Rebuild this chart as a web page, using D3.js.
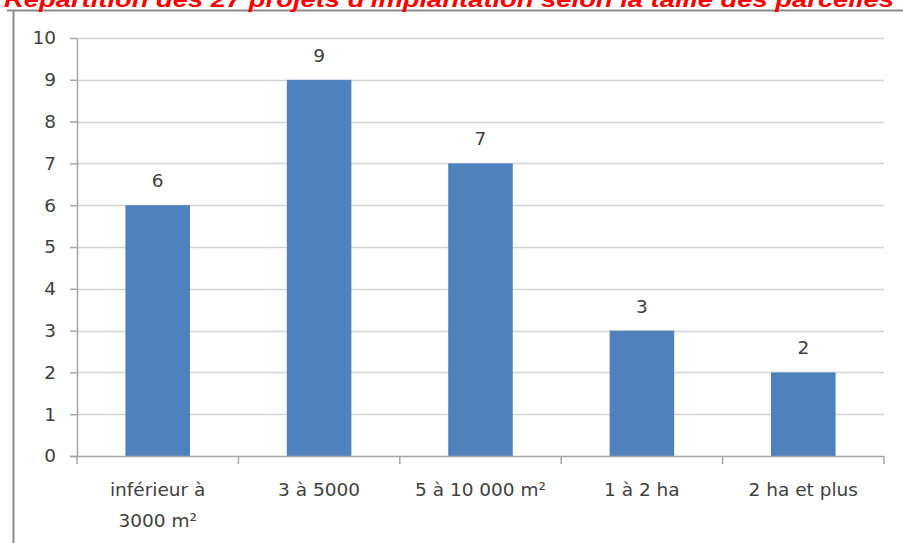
<!DOCTYPE html>
<html><head><meta charset="utf-8">
<script src="https://cdn.jsdelivr.net/npm/d3@7"></script>
<style>body{margin:0;background:#fff}svg{display:block}</style>
</head><body>
<svg id="c" width="903" height="543"></svg>
<script>
const title = "Répartition des 27 projets d'implantation selon la taille des parcelles";
const categories = [["inférieur à","3000 m²"],["3 à 5000"],["5 à 10 000 m²"],["1 à 2 ha"],["2 ha et plus"]];
const values = [6, 9, 7, 3, 2];
const yTicks = [0,1,2,3,4,5,6,7,8,9,10];

(function(){
const svg = d3.select("#c");
const font = "'DejaVu Sans', sans-serif";
const pLeft = 77, pRight = 884, pTop = 38, pBottom = 456;

// frame
svg.append("line").attr("x1",7).attr("x2",903).attr("y1",10.5).attr("y2",10.5).attr("stroke","#8c8c8c").attr("stroke-width",2);
svg.append("line").attr("x1",13.5).attr("x2",13.5).attr("y1",10).attr("y2",543).attr("stroke","#8c8c8c").attr("stroke-width",2);

// title
svg.append("text").attr("x",449).attr("y",7).attr("text-anchor","middle")
  .attr("font-family","'Liberation Sans', Arial, sans-serif").attr("font-weight","bold").attr("font-style","italic")
  .attr("font-size",22).attr("fill","#ff0000").attr("textLength",890).attr("lengthAdjust","spacingAndGlyphs").text(title);

const x = d3.scaleBand().domain(d3.range(values.length)).range([pLeft,pRight]).paddingInner(0).paddingOuter(0);
const y = d3.scaleLinear().domain([0,10]).range([pBottom,pTop]);

// gridlines
svg.append("g").selectAll("line").data(yTicks.filter(d=>d>0)).join("line")
  .attr("x1",pLeft).attr("x2",pRight).attr("y1",d=>Math.round(y(d))+0.5).attr("y2",d=>Math.round(y(d))+0.5)
  .attr("stroke","#d4d4d4").attr("stroke-width",1.5);

// bars
const bw = x.bandwidth()*0.4;
svg.append("g").selectAll("rect").data(values).join("rect")
  .attr("x",(d,i)=>x(i)+x.bandwidth()/2-bw/2).attr("width",bw)
  .attr("y",d=>y(d)).attr("height",d=>y(0)-y(d)).attr("fill","#4f81bd");

// y axis
const ya = svg.append("g").attr("transform",`translate(${pLeft},0)`)
  .call(d3.axisLeft(y).tickValues(yTicks).tickSize(7).tickPadding(14).tickSizeOuter(0));
ya.select(".domain").attr("stroke","#a6a6a6").attr("stroke-width",1.5);
ya.selectAll(".tick line").attr("stroke","#a6a6a6").attr("stroke-width",1.5);
ya.selectAll(".tick text").attr("font-family",font).attr("font-size",18.5).attr("fill","#404040");

// x axis
const xa = svg.append("g").attr("transform",`translate(0,${pBottom})`);
xa.append("line").attr("x1",pLeft-7).attr("x2",pRight).attr("y1",0.5).attr("y2",0.5).attr("stroke","#a6a6a6").attr("stroke-width",1.5);
const bounds = d3.range(values.length+1).map(i=> i<values.length ? x(i) : pRight);
xa.selectAll("line.t").data(bounds).join("line").attr("class","t")
  .attr("x1",d=>d).attr("x2",d=>d).attr("y1",0).attr("y2",8).attr("stroke","#a6a6a6").attr("stroke-width",1.5);
xa.selectAll("text.lbl").data(categories).join("text").attr("class","lbl")
  .attr("x",(d,i)=>x(i)+x.bandwidth()/2).attr("y",40).attr("text-anchor","middle")
  .attr("font-family",font).attr("font-size",18.5).attr("fill","#404040")
  .each(function(d){
    const t=d3.select(this);
    d.forEach((s,j)=>t.append("tspan").attr("x",t.attr("x")).attr("dy",j===0?0:31).text(s));
  });

// value labels
svg.append("g").selectAll("text").data(values).join("text")
  .attr("x",(d,i)=>x(i)+x.bandwidth()/2).attr("y",d=>y(d)-18).attr("text-anchor","middle")
  .attr("font-family",font).attr("font-size",18.5).attr("fill","#404040").text(d=>d);
})();
</script>
</body></html>
